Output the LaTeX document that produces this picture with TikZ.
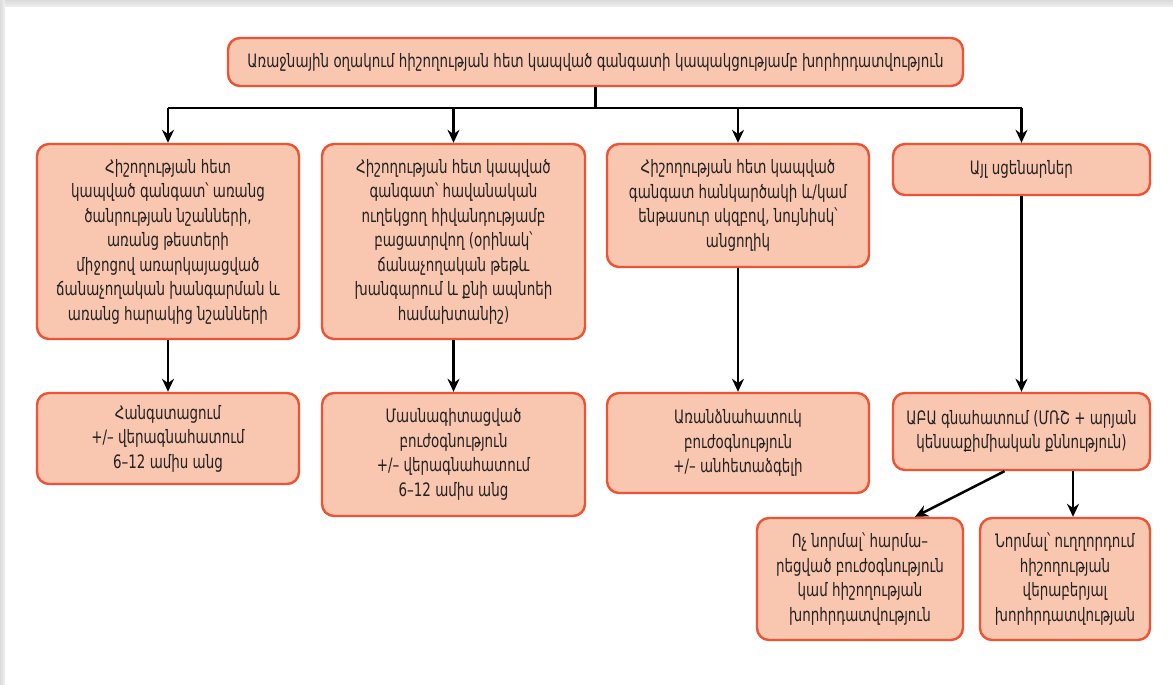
\documentclass[tikz,border=0pt]{standalone}
\usepackage{fontspec}
\setmainfont[FakeStretch=0.726]{DejaVu Sans}
\usetikzlibrary{arrows.meta}
\definecolor{boxfill}{HTML}{F9C6B0}
\definecolor{boxline}{HTML}{EE5334}
\definecolor{ink}{HTML}{222222}
\tikzset{
  card/.style={draw=boxline, fill=boxfill, line width=2.4pt, rounded corners=12pt,
    align=center, inner sep=0pt, text=ink, font=\fontsize{18.5}{24.5}\selectfont},
  wire/.style={line width=2.5pt, draw=black},
  link/.style={wire, -{Stealth[length=13pt,width=12pt]}},
}
\begin{document}
\begin{tikzpicture}[x=1pt,y=-1pt]
\useasboundingbox (0,0) rectangle (1173,685);
\fill[white] (0,0) rectangle (1173,685);
% soft frame along the top and left edges
\shade[top color=black!14, bottom color=black!6] (0,0) rectangle (1173,7);
\shade[left color=black!14, right color=black!6] (0,0) rectangle (5,685);

% top box
\node[card, minimum width=735pt, minimum height=48pt] (top) at (595.5,62)
  {Առաջնային օղակում հիշողության հետ կապված գանգատի կապակցությամբ խորհրդատվություն};

% first row
\node[card, minimum width=262pt, minimum height=195pt] (b1) at (168,241.5)
  {Հիշողության հետ\\կապված գանգատ՝ առանց\\ծանրության նշանների,\\առանց թեստերի\\միջոցով առարկայացված\\ճանաչողական խանգարման և\\առանց հարակից նշանների};
\node[card, minimum width=263pt, minimum height=195pt] (b2) at (453.5,241.5)
  {Հիշողության հետ կապված\\գանգատ՝ հավանական\\ուղեկցող հիվանդությամբ\\բացատրվող (օրինակ՝\\ճանաչողական թեթև\\խանգարում և քնի ապնոեի\\համախտանիշ)};
\node[card, minimum width=262pt, minimum height=123pt] (b3) at (738,205.5)
  {Հիշողության հետ կապված\\գանգատ հանկարծակի և/կամ\\ենթասուր սկզբով, նույնիսկ՝\\անցողիկ};
\node[card, minimum width=257pt, minimum height=51pt] (b4) at (1021.5,169.5)
  {Այլ սցենարներ};

% second row
\node[card, minimum width=262pt, minimum height=91pt] (b5) at (168,438.5)
  {Հանգստացում\\+/– վերագնահատում\\6–12 ամիս անց};
\node[card, minimum width=263pt, minimum height=123pt] (b6) at (453.5,454.5)
  {Մասնագիտացված\\բուժօգնություն\\+/– վերագնահատում\\6–12 ամիս անց};
\node[card, minimum width=262pt, minimum height=100pt] (b7) at (738,443)
  {Առանձնահատուկ\\բուժօգնություն\\+/– անհետաձգելի};
\node[card, minimum width=257pt, minimum height=77pt] (b8) at (1021.5,431.5)
  {ԱԲԱ գնահատում (ՄՌՇ + արյան\\կենսաքիմիական քննություն)};

% third row
\node[card, minimum width=206pt, minimum height=122pt] (b9) at (860,579)
  {Ոչ նորմալ՝ հարմա–\\րեցված բուժօգնություն\\կամ հիշողության\\խորհրդատվություն};
\node[card, minimum width=170pt, minimum height=122pt] (b10) at (1065,579)
  {Նորմալ՝ ուղղորդում\\հիշողության\\վերաբերյալ\\խորհրդատվության};

% distribution bus under the top box
\coordinate (hub) at (595.5,108);
\draw[wire] (top.south) -- (hub);
\draw[wire] (b1.north |- hub) -- (b4.north |- hub);
\foreach \b in {b1,b2,b3,b4}
  \draw[link] (\b.north |- hub) -- (\b.north);

% downward links
\draw[link] (b1.south) -- (b5.north);
\draw[link] (b2.south) -- (b6.north);
\draw[link] (b3.south) -- (b7.north);
\draw[link] (b4.south) -- (b8.north);
\draw[link] ([xshift=-17pt]b8.south) -- ([xshift=55pt]b9.north);
\draw[link] ([xshift=51.5pt]b8.south) -- ([xshift=51.5pt]b8.south |- b10.north);
\end{tikzpicture}
\end{document}
